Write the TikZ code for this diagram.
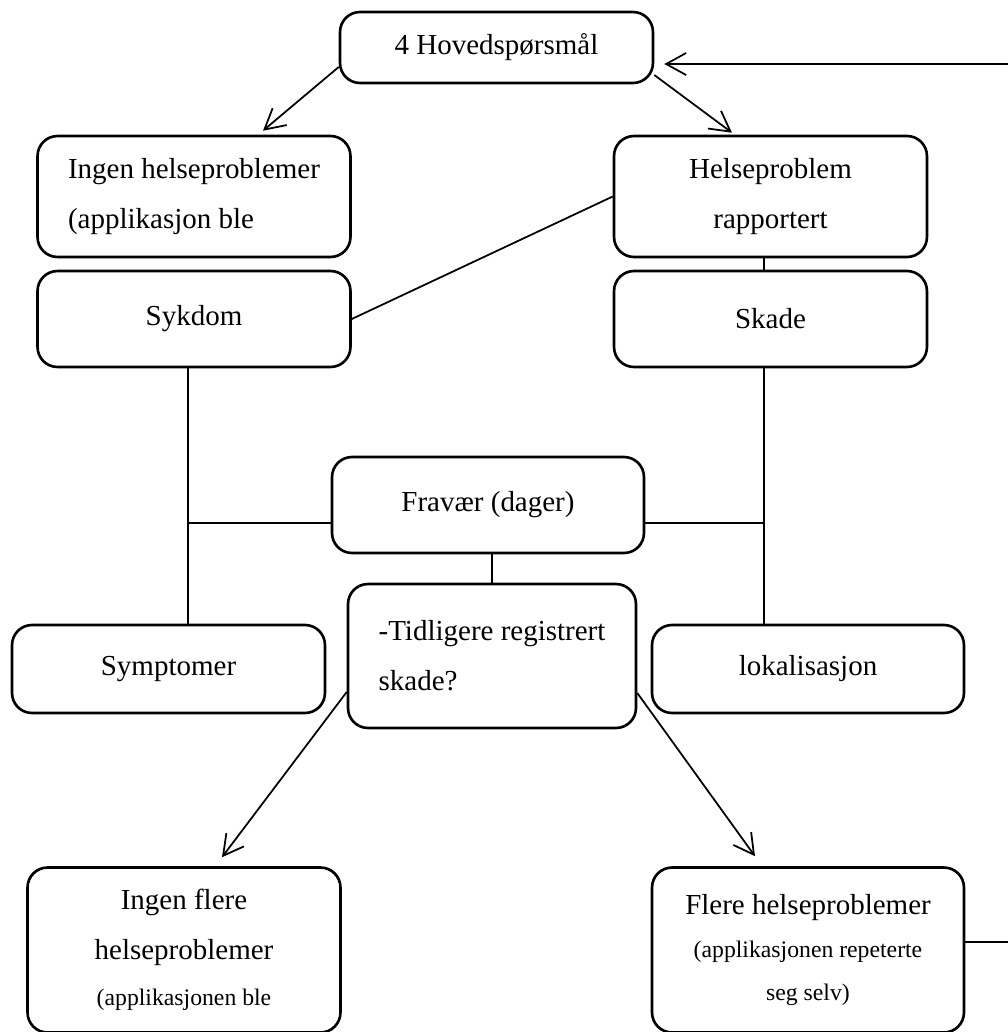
\documentclass[tikz,border=0pt]{standalone}
\usepackage{fontspec}
\setmainfont{Liberation Serif}
\usetikzlibrary{arrows.meta,calc}

\newcommand{\smalltxt}{\fontsize{13.5}{24}\selectfont}

\tikzset{
  box/.style={draw, line width=1.5pt, rounded corners=0.4cm, inner sep=0pt,
    minimum width=6.26cm, font=\fontsize{16.5}{28.35}\selectfont},
  link/.style={line width=1pt},
  arr/.style={line width=1pt, -{Straight Barb[length=4mm,width=4.4mm]}}
}

\begin{document}
\begin{tikzpicture}[x=0.02cm, y=-0.02cm]
      \useasboundingbox (0,0) rectangle (1008,1032);

      % boxes
      \node[box, minimum height=1.42cm] (hoved) at (496.5,47.5) {4 Hovedspørsmål};
      \node[box, minimum height=2.42cm, align=left] (ingen) at (194,196.5) {Ingen helseproblemer\\(applikasjon ble};
      \node[box, minimum height=2.42cm, align=center] (helse) at (770.5,196.5) {Helseproblem\\rapportert};
      \node[box, minimum height=1.92cm] (sykdom) at (194,319) {Sykdom};
      \node[box, minimum height=1.92cm] (skade) at (770.5,319) {Skade};
      \node[box, minimum height=1.92cm, minimum width=6.24cm] (fravaer) at (488,505) {Fravær (dager)};
      \node[box, minimum height=2.88cm, minimum width=5.76cm, align=left] (tidligere) at (492,656) {-Tidligere registrert\\skade?};
      \node[box, minimum height=1.76cm] (symptomer) at (168.5,669) {Symptomer};
      \node[box, minimum height=1.76cm, minimum width=6.24cm] (lokal) at (808,669) {lokalisasjon};
      \node[box, minimum height=3.3cm, align=center] (ingenflere) at (184,950) {Ingen flere\\helseproblemer\\[-2.3pt]\smalltxt(applikasjonen ble};
      \node[box, minimum height=3.3cm, minimum width=6.24cm, align=center] (flere) at (808,950) {Flere helseproblemer\\[-4pt]\smalltxt(applikasjonen repeterte\\[-4pt]\smalltxt seg selv)};

      \coordinate (lv) at (188,0);
      \coordinate (rv) at (764,0);
      \coordinate (mid) at (0,523);
      \coordinate (edge) at (1025,942);

      % arrows
      \draw[arr] ($(hoved.west)+(0,19.5)$) -- ($(ingen.north)+(69,-4)$);
      \draw[arr] ($(hoved.east)+(0,27.5)$) -- ($(helse.north)+(-38.5,-2)$);
      \draw[arr] ($(tidligere.west)+(0,36)$) -- ($(ingenflere.north)+(38,-9)$);
      \draw[arr] ($(tidligere.east)+(0,37)$) -- ($(flere.north)+(-53,-10)$);
      \draw[arr] (flere.east |- edge) -- (edge) |- ($(hoved.east)+(10,16.5)$);

      % lines
      \draw[link] (helse.west) -- (sykdom.east);
      \draw[link] (helse.south -| rv) -- (skade.north -| rv);
      \draw[link] (sykdom.south -| lv) -- (symptomer.north -| lv);
      \draw[link] (skade.south -| rv) -- (lokal.north -| rv);
      \draw[link] (fravaer.west |- mid) -- (lv |- mid);
      \draw[link] (fravaer.east |- mid) -- (rv |- mid);
      \draw[link] (fravaer.south -| tidligere.north) -- (tidligere.north);
\end{tikzpicture}
\end{document}
